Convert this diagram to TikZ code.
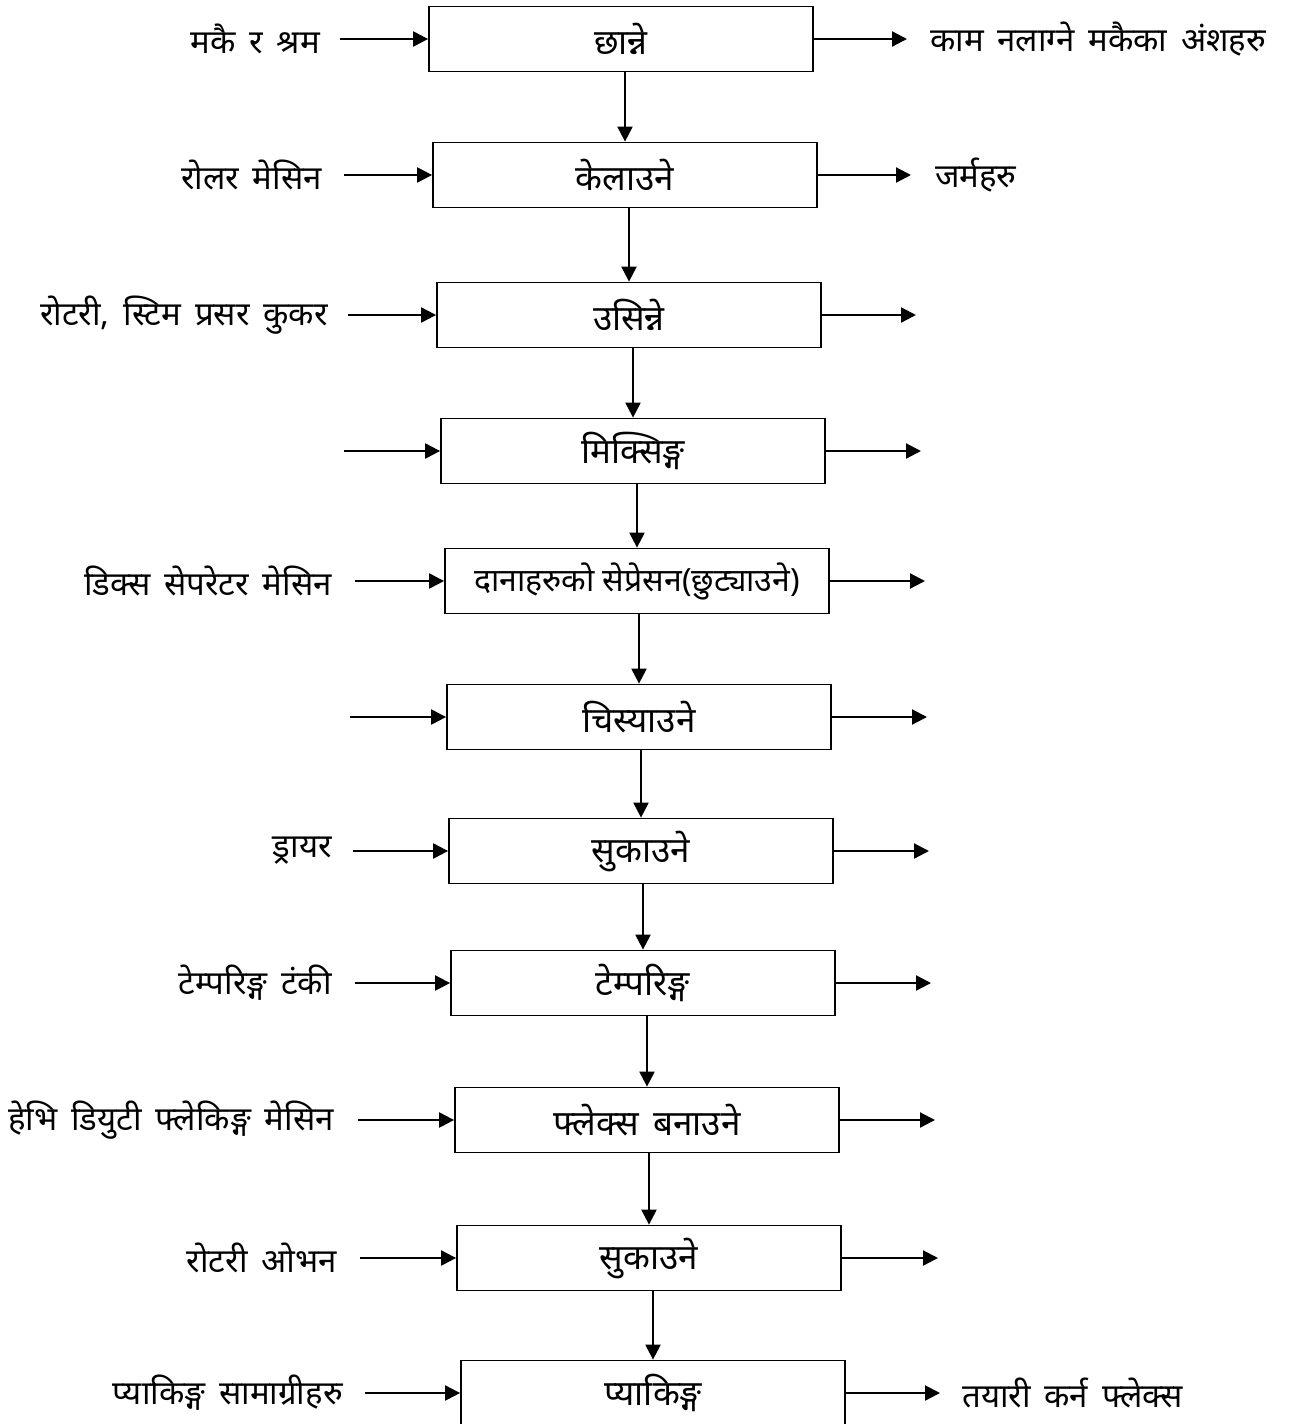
\documentclass[tikz,border=0pt]{standalone}
\usepackage{fontspec}
\newfontfamily\dev[Script=Devanagari]{Noto Sans}
\usetikzlibrary{arrows.meta}
\newcommand{\labfont}{\dev\fontsize{33}{38}\selectfont\spaceskip=0.42em plus 0.1em\relax}
\newcommand{\boxfont}{\dev\fontsize{35}{40}\selectfont\spaceskip=0.42em plus 0.1em\relax}
\begin{document}
\begin{tikzpicture}[x=1pt,y=-1pt,
  box/.style={draw, line width=1.8pt, minimum width=384pt, minimum height=65pt, inner sep=0pt, font=\boxfont},
  flow/.style={line width=2.2pt, -{Triangle[length=15pt,width=15pt]}},
  lab/.style={inner sep=0pt, font=\labfont}]
\fill[white] (0,0) rectangle (1292,1424);
\clip (0,0) rectangle (1292,1424);
% boxes
\node[box] (b1) at (621,39) {छान्ने};
\node[box] (b2) at (625,175) {केलाउने};
\node[box] (b3) at (629,315) {उसिन्ने};
\node[box] (b4) at (633,451) {मिक्सिङ्ग};
\node[box, font=\dev\fontsize{32}{36}\selectfont] (b5) at (637,581) {दानाहरुको सेप्रेसन(छुट्याउने)};
\node[box] (b6) at (639,717) {चिस्याउने};
\node[box] (b7) at (641,851) {सुकाउने};
\node[box] (b8) at (643,983) {टेम्परिङ्ग};
\node[box] (b9) at (647,1120) {फ्लेक्स बनाउने};
\node[box] (b10) at (649,1258) {सुकाउने};
\node[box] (b11) at (653,1393) {प्याकिङ्ग};
% vertical flow
\draw[flow] (b1.south -| b2.north) -- (b2.north);
\draw[flow] (b2.south -| b3.north) -- (b3.north);
\draw[flow] (b3.south -| b4.north) -- (b4.north);
\draw[flow] (b4.south -| b5.north) -- (b5.north);
\draw[flow] (b5.south -| b6.north) -- (b6.north);
\draw[flow] (b6.south -| b7.north) -- (b7.north);
\draw[flow] (b7.south -| b8.north) -- (b8.north);
\draw[flow] (b8.south -| b9.north) -- (b9.north);
\draw[flow] (b9.south -| b10.north) -- (b10.north);
\draw[flow] (b10.south -| b11.north) -- (b11.north);
% input start points
\coordinate (i1) at (340,39);
\coordinate (i2) at (344,175);
\coordinate (i3) at (348,315);
\coordinate (i4) at (344,451);
\coordinate (i5) at (355,581);
\coordinate (i6) at (350,717);
\coordinate (i7) at (353,851);
\coordinate (i8) at (355,983);
\coordinate (i9) at (358,1120);
\coordinate (i10) at (360,1258);
\coordinate (i11) at (365,1393);
\foreach \k in {1,...,11}{\draw[flow] (i\k) -- (b\k.west);}
% input labels
\node[lab, anchor=east] (l1) at (320,39) {मकै र श्रम};
\node[lab, anchor=east] (l2) at (322,175) {रोलर मेसिन};
\node[lab, anchor=east] (l3) at (328,315) {रोटरी, स्टिम प्रसर कुकर};
\node[lab, anchor=east] (l5) at (332,581) {डिक्स सेपरेटर मेसिन};
\node[lab, anchor=east] (l7) at (332,851) {ड्रायर};
\node[lab, anchor=east] (l8) at (332,983) {टेम्परिङ्ग टंकी};
\node[lab, anchor=east] (l9) at (334,1120) {हेभि डियुटी फ्लेकिङ्ग मेसिन};
\node[lab, anchor=east] (l10) at (337,1258) {रोटरी ओभन};
\node[lab, anchor=east] (l11) at (343,1393) {प्याकिङ्ग सामाग्रीहरु};
% outputs
\coordinate (o1) at (907,39);
\coordinate (o2) at (911,175);
\coordinate (o3) at (916,315);
\coordinate (o4) at (921,451);
\coordinate (o5) at (925,581);
\coordinate (o6) at (927,717);
\coordinate (o7) at (929,851);
\coordinate (o8) at (931,983);
\coordinate (o9) at (935,1120);
\coordinate (o10) at (938,1258);
\coordinate (o11) at (940,1393);
\foreach \k in {1,...,11}{\draw[flow] (b\k.east) -- (o\k);}
\node[lab, anchor=west] (r1) at (930,39) {काम नलाग्ने मकैका अंशहरु};
\node[lab, anchor=west] (r2) at (935,175) {जर्महरु};
\node[lab, anchor=west] (r11) at (962,1393) {तयारी कर्न फ्लेक्स};
\end{tikzpicture}
\end{document}
